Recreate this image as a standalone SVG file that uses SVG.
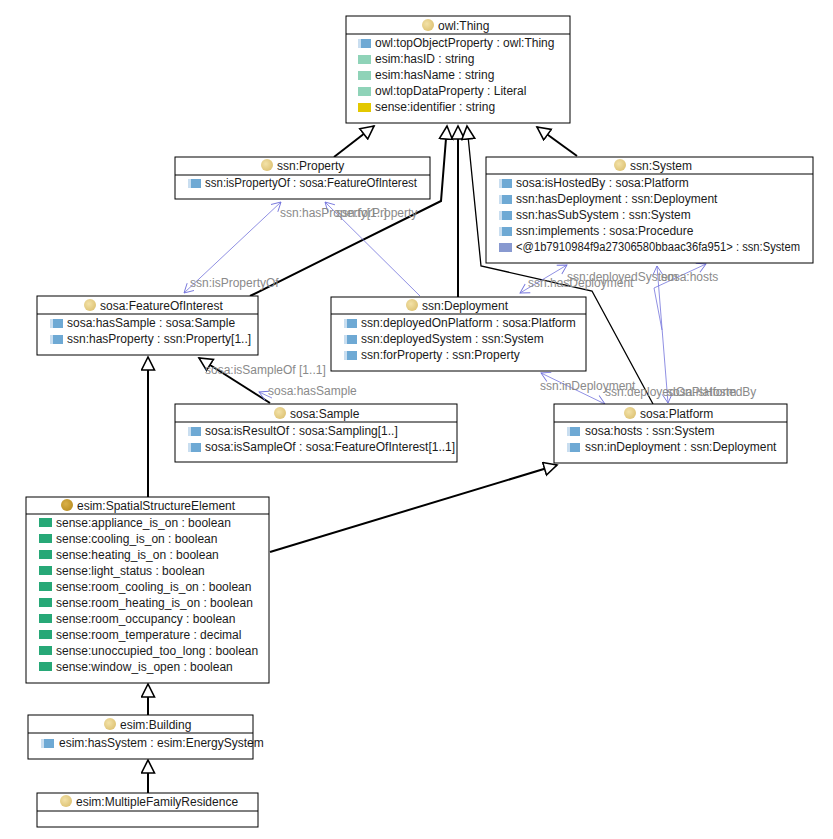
<svg xmlns="http://www.w3.org/2000/svg" width="833" height="839" viewBox="0 0 833 839">
  <style>
    .box { fill: #ffffff; stroke: #000000; stroke-width: 1; }
    .div { stroke: #000000; stroke-width: 1; }
    .t { font-family: "Segoe UI", "Liberation Sans", Arial, sans-serif; font-size: 12px; fill: #1a1a1a; }
    .lbl { font-family: "Segoe UI", "Liberation Sans", Arial, sans-serif; font-size: 12px; fill: #8a8a8a; }
    .isa { fill: none; stroke: #000000; stroke-width: 2; marker-end: url(#tri); }
    .isa1 { fill: none; stroke: #000000; stroke-width: 1.3; marker-end: url(#tri); }
    .rel { fill: none; stroke: #7474dc; stroke-width: 0.8; }
    .both { marker-start: url(#vs); marker-end: url(#ve); }
    .one { marker-end: url(#ve); }
    .cls { fill: url(#gold); }
    .cls2 { fill: url(#gold2); }
    .op { fill: #6ea9d4; }
    .opl { fill: #c9def0; }
    .dp { fill: #8fd3b8; }
    .dpg { fill: #27a877; }
    .ap { fill: #e3c800; }
    .op2 { fill: #8899d0; }
  </style>
  <defs>
    <radialGradient id="gold" cx="0.4" cy="0.4" r="0.7">
      <stop offset="0" stop-color="#f3e2a8"/>
      <stop offset="1" stop-color="#dcc070"/>
    </radialGradient>
    <radialGradient id="gold2" cx="0.4" cy="0.4" r="0.7">
      <stop offset="0" stop-color="#d9b048"/>
      <stop offset="1" stop-color="#b88d20"/>
    </radialGradient>
    <marker id="tri" markerUnits="userSpaceOnUse" markerWidth="16" markerHeight="16" viewBox="-1 -1 16 16" refX="13" refY="6.5" orient="auto">
      <path d="M0,0 L13,6.5 L0,13 Z" fill="#ffffff" stroke="#000000" stroke-width="1.6"/>
    </marker>
    <marker id="ve" markerUnits="userSpaceOnUse" markerWidth="12" markerHeight="12" viewBox="0 0 12 12" refX="10" refY="6" orient="auto">
      <path d="M1,1 L10,6 L1,11" fill="none" stroke="#7474dc" stroke-width="0.9"/>
    </marker>
    <marker id="vs" markerUnits="userSpaceOnUse" markerWidth="12" markerHeight="12" viewBox="0 0 12 12" refX="2" refY="6" orient="auto">
      <path d="M11,1 L2,6 L11,11" fill="none" stroke="#7474dc" stroke-width="0.9"/>
    </marker>
  </defs>

  <!-- connectors -->
  <g id="connectors">
    <!-- subclass links -->
    <path class="isa" d="M334,157 L374,126"/>
    <path class="isa" d="M250,296 L441,201 L447,126"/>
    <path class="isa" d="M458,297 L458,126"/>
    <path class="isa1" d="M653,404 L592,291 L481,266 L467,126"/>
    <path class="isa" d="M577,156 L537,127"/>
    <path class="isa" d="M270,403 L199,358"/>
    <path class="isa" d="M148,497 L148,357"/>
    <path class="isa" d="M270,552 L557,465"/>
    <path class="isa" d="M148,715 L148,684"/>
    <path class="isa" d="M148,793 L148,760"/>
    <!-- object property links -->
    <path class="rel both" d="M184,293 L281,202"/>
    <path class="rel one" d="M420,296 L325,202"/>
    <path class="rel both" d="M520,293 L567,265"/>
    <path class="rel both" d="M657,266 L668,403"/>
    <path class="rel one" d="M662,330 L654,288 L706,264"/>
    <path class="rel both" d="M541,373 L605,404"/>
    <path class="rel one" d="M272,398 L259,392"/>
    <!-- link labels -->
    <text class="lbl" x="280" y="217">ssn:hasProperty[1..]</text>
    <text class="lbl" x="336" y="217">ssn:forProperty</text>
    <text class="lbl" x="190" y="287">ssn:isPropertyOf</text>
    <text class="lbl" x="567" y="281">ssn:deployedSystem</text>
    <text class="lbl" x="528" y="287">ssn:hasDeployment</text>
    <text class="lbl" x="661" y="281">sosa:hosts</text>
    <text class="lbl" x="205" y="374">sosa:isSampleOf [1..1]</text>
    <text class="lbl" x="268" y="395">sosa:hasSample</text>
    <text class="lbl" x="540" y="390">ssn:inDeployment</text>
    <text class="lbl" x="605" y="396">ssn:deployedOnPlatform</text>
    <text class="lbl" x="667" y="396">sosa:isHostedBy</text>
  </g>

  <!-- owl:Thing -->
  <g id="owl-Thing">
    <rect class="box" x="346" y="16" width="224" height="107"/>
    <line class="div" x1="346" y1="34" x2="570" y2="34"/>
    <circle class="cls" cx="428" cy="25" r="6"/>
    <text class="t" x="438" y="30">owl:Thing</text>
    <rect class="op" x="358" y="39" width="13" height="9"/><rect class="opl" x="358" y="39" width="3" height="9"/>
    <text class="t" x="375" y="47">owl:topObjectProperty : owl:Thing</text>
    <rect class="dp" x="358" y="55" width="13" height="9"/>
    <text class="t" x="375" y="63">esim:hasID : string</text>
    <rect class="dp" x="358" y="71" width="13" height="9"/>
    <text class="t" x="375" y="79">esim:hasName : string</text>
    <rect class="dp" x="358" y="87" width="13" height="9"/>
    <text class="t" x="375" y="95">owl:topDataProperty : Literal</text>
    <rect class="ap" x="358" y="103" width="13" height="9"/>
    <text class="t" x="375" y="111">sense:identifier : string</text>
  </g>

  <!-- ssn:Property -->
  <g id="ssn-Property">
    <rect class="box" x="175" y="157" width="255" height="42"/>
    <line class="div" x1="175" y1="175" x2="430" y2="175"/>
    <circle class="cls" cx="267" cy="165" r="6"/>
    <text class="t" x="277" y="170">ssn:Property</text>
    <rect class="op" x="188" y="179" width="13" height="9"/><rect class="opl" x="188" y="179" width="3" height="9"/>
    <text class="t" x="205" y="187" textLength="212" lengthAdjust="spacingAndGlyphs">ssn:isPropertyOf : sosa:FeatureOfInterest</text>
  </g>

  <!-- ssn:System -->
  <g id="ssn-System">
    <rect class="box" x="486" y="157" width="327" height="106"/>
    <line class="div" x1="486" y1="174" x2="813" y2="174"/>
    <circle class="cls" cx="620" cy="165" r="6"/>
    <text class="t" x="630" y="170">ssn:System</text>
    <rect class="op" x="499" y="179" width="13" height="9"/><rect class="opl" x="499" y="179" width="3" height="9"/>
    <text class="t" x="516" y="187">sosa:isHostedBy : sosa:Platform</text>
    <rect class="op" x="499" y="195" width="13" height="9"/><rect class="opl" x="499" y="195" width="3" height="9"/>
    <text class="t" x="516" y="203">ssn:hasDeployment : ssn:Deployment</text>
    <rect class="op" x="499" y="211" width="13" height="9"/><rect class="opl" x="499" y="211" width="3" height="9"/>
    <text class="t" x="516" y="219">ssn:hasSubSystem : ssn:System</text>
    <rect class="op" x="499" y="227" width="13" height="9"/><rect class="opl" x="499" y="227" width="3" height="9"/>
    <text class="t" x="516" y="235">ssn:implements : sosa:Procedure</text>
    <rect class="op2" x="499" y="243" width="13" height="9"/>
    <text class="t" x="516" y="251" textLength="284" lengthAdjust="spacingAndGlyphs">&lt;@1b7910984f9a27306580bbaac36fa951&gt; : ssn:System</text>
  </g>

  <!-- sosa:FeatureOfInterest -->
  <g id="sosa-FeatureOfInterest">
    <rect class="box" x="37" y="296" width="221" height="59"/>
    <line class="div" x1="37" y1="314" x2="258" y2="314"/>
    <circle class="cls" cx="90" cy="305" r="6"/>
    <text class="t" x="100" y="310">sosa:FeatureOfInterest</text>
    <rect class="op" x="50" y="319" width="13" height="9"/><rect class="opl" x="50" y="319" width="3" height="9"/>
    <text class="t" x="67" y="327">sosa:hasSample : sosa:Sample</text>
    <rect class="op" x="50" y="335" width="13" height="9"/><rect class="opl" x="50" y="335" width="3" height="9"/>
    <text class="t" x="67" y="343">ssn:hasProperty : ssn:Property[1..]</text>
  </g>

  <!-- ssn:Deployment -->
  <g id="ssn-Deployment">
    <rect class="box" x="331" y="297" width="255" height="74"/>
    <line class="div" x1="331" y1="314" x2="586" y2="314"/>
    <circle class="cls" cx="412" cy="305" r="6"/>
    <text class="t" x="422" y="310">ssn:Deployment</text>
    <rect class="op" x="344" y="319" width="13" height="9"/><rect class="opl" x="344" y="319" width="3" height="9"/>
    <text class="t" x="361" y="327">ssn:deployedOnPlatform : sosa:Platform</text>
    <rect class="op" x="344" y="335" width="13" height="9"/><rect class="opl" x="344" y="335" width="3" height="9"/>
    <text class="t" x="361" y="343">ssn:deployedSystem : ssn:System</text>
    <rect class="op" x="344" y="351" width="13" height="9"/><rect class="opl" x="344" y="351" width="3" height="9"/>
    <text class="t" x="361" y="359">ssn:forProperty : ssn:Property</text>
  </g>

  <!-- sosa:Sample -->
  <g id="sosa-Sample">
    <rect class="box" x="175" y="404" width="282" height="58"/>
    <line class="div" x1="175" y1="422" x2="457" y2="422"/>
    <circle class="cls" cx="280" cy="413" r="6"/>
    <text class="t" x="290" y="418">sosa:Sample</text>
    <rect class="op" x="188" y="427" width="13" height="9"/><rect class="opl" x="188" y="427" width="3" height="9"/>
    <text class="t" x="205" y="435">sosa:isResultOf : sosa:Sampling[1..]</text>
    <rect class="op" x="188" y="443" width="13" height="9"/><rect class="opl" x="188" y="443" width="3" height="9"/>
    <text class="t" x="205" y="451">sosa:isSampleOf : sosa:FeatureOfInterest[1..1]</text>
  </g>

  <!-- sosa:Platform -->
  <g id="sosa-Platform">
    <rect class="box" x="554" y="404" width="233" height="59"/>
    <line class="div" x1="554" y1="422" x2="787" y2="422"/>
    <circle class="cls" cx="630" cy="413" r="6"/>
    <text class="t" x="640" y="418">sosa:Platform</text>
    <rect class="op" x="567" y="427" width="13" height="9"/><rect class="opl" x="567" y="427" width="3" height="9"/>
    <text class="t" x="585" y="435">sosa:hosts : ssn:System</text>
    <rect class="op" x="567" y="443" width="13" height="9"/><rect class="opl" x="567" y="443" width="3" height="9"/>
    <text class="t" x="585" y="451">ssn:inDeployment : ssn:Deployment</text>
  </g>

  <!-- esim:SpatialStructureElement -->
  <g id="esim-SpatialStructureElement">
    <rect class="box" x="26" y="497" width="243" height="186"/>
    <line class="div" x1="26" y1="514" x2="269" y2="514"/>
    <circle class="cls2" cx="67" cy="505" r="6"/>
    <text class="t" x="77" y="510">esim:SpatialStructureElement</text>
    <rect class="dpg" x="39" y="518" width="13" height="9"/>
    <text class="t" x="56" y="527">sense:appliance_is_on : boolean</text>
    <rect class="dpg" x="39" y="534" width="13" height="9"/>
    <text class="t" x="56" y="543">sense:cooling_is_on : boolean</text>
    <rect class="dpg" x="39" y="550" width="13" height="9"/>
    <text class="t" x="56" y="559">sense:heating_is_on : boolean</text>
    <rect class="dpg" x="39" y="566" width="13" height="9"/>
    <text class="t" x="56" y="575">sense:light_status : boolean</text>
    <rect class="dpg" x="39" y="582" width="13" height="9"/>
    <text class="t" x="56" y="591">sense:room_cooling_is_on : boolean</text>
    <rect class="dpg" x="39" y="598" width="13" height="9"/>
    <text class="t" x="56" y="607">sense:room_heating_is_on : boolean</text>
    <rect class="dpg" x="39" y="614" width="13" height="9"/>
    <text class="t" x="56" y="623">sense:room_occupancy : boolean</text>
    <rect class="dpg" x="39" y="630" width="13" height="9"/>
    <text class="t" x="56" y="639">sense:room_temperature : decimal</text>
    <rect class="dpg" x="39" y="646" width="13" height="9"/>
    <text class="t" x="56" y="655">sense:unoccupied_too_long : boolean</text>
    <rect class="dpg" x="39" y="662" width="13" height="9"/>
    <text class="t" x="56" y="671">sense:window_is_open : boolean</text>
  </g>

  <!-- esim:Building -->
  <g id="esim-Building">
    <rect class="box" x="28" y="715" width="225" height="44"/>
    <line class="div" x1="28" y1="733" x2="253" y2="733"/>
    <circle class="cls" cx="110" cy="724" r="6"/>
    <text class="t" x="120" y="729">esim:Building</text>
    <rect class="op" x="41" y="739" width="13" height="9"/><rect class="opl" x="41" y="739" width="3" height="9"/>
    <text class="t" x="59" y="747">esim:hasSystem : esim:EnergySystem</text>
  </g>

  <!-- esim:MultipleFamilyResidence -->
  <g id="esim-MultipleFamilyResidence">
    <rect class="box" x="37" y="793" width="221" height="34"/>
    <line class="div" x1="37" y1="811" x2="258" y2="811"/>
    <circle class="cls" cx="66" cy="801" r="6"/>
    <text class="t" x="76" y="806">esim:MultipleFamilyResidence</text>
  </g>
</svg>
